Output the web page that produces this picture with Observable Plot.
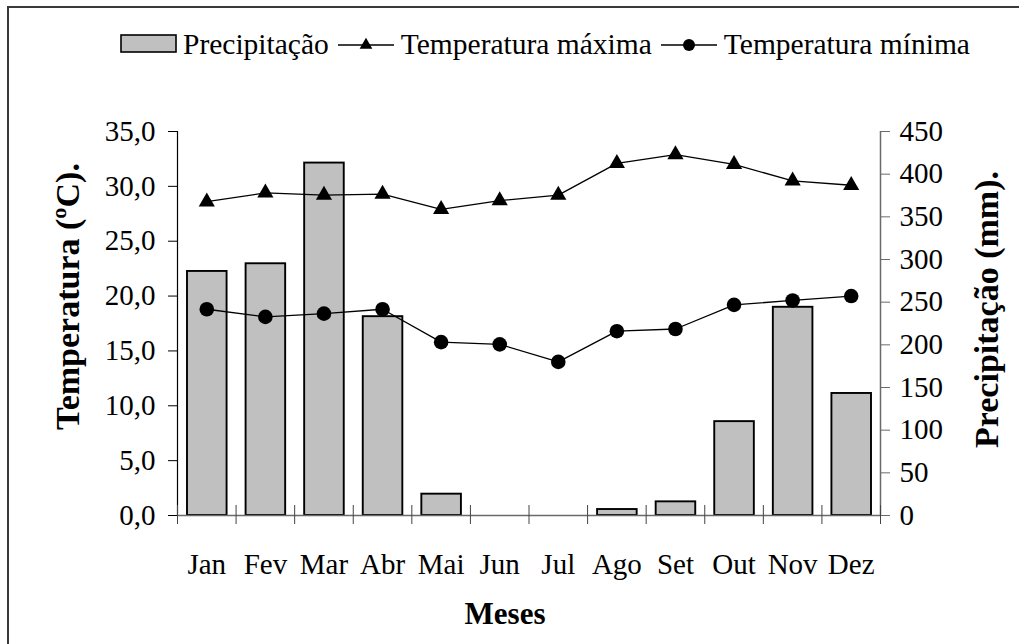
<!DOCTYPE html>
<html>
<head>
<meta charset="utf-8">
<script src="https://cdn.jsdelivr.net/npm/d3@7"></script>
<script src="https://cdn.jsdelivr.net/npm/@observablehq/plot@0.6"></script>
<style>
  html, body { margin: 0; padding: 0; background: #fff; overflow: hidden; width: 1019px; height: 644px; }
  #frame { position: absolute; left: 7px; top: 6px; width: 1100px; height: 700px; border: 2px solid #3a3a3a; box-sizing: border-box; }
  #legend { position: absolute; left: 120px; top: 26px; height: 36px; display: flex; align-items: center; font-family: "Liberation Serif", "Times New Roman", serif; font-size: 29.5px; color: #000; white-space: nowrap; }
  #legend .item { display: flex; align-items: center; margin-right: 7px; }
  #legend svg { margin-right: 5px; }
  #chart { position: absolute; left: 0; top: 80px; }
</style>
</head>
<body>
<div id="frame"></div>
<div id="legend"></div>
<div id="chart"></div>
<script>
const months = ["Jan", "Fev", "Mar", "Abr", "Mai", "Jun", "Jul", "Ago", "Set", "Out", "Nov", "Dez"];
const precipitacao = [286, 295, 413, 233, 25, 0, 0, 7, 16, 110, 244, 143];
const tempMax = [28.6, 29.4, 29.2, 29.3, 27.9, 28.7, 29.2, 32.1, 32.9, 32.0, 30.5, 30.1];
const tempMin = [18.8, 18.1, 18.4, 18.8, 15.8, 15.6, 14.0, 16.8, 17.0, 19.2, 19.6, 20.0];
const tempTicks = [0, 5, 10, 15, 20, 25, 30, 35];
const precipTicks = [0, 50, 100, 150, 200, 250, 300, 350, 400, 450];
const tempMaxDomain = 35;
const precipMaxDomain = 450;

const toTemp = p => p * tempMaxDomain / precipMaxDomain;
const fmt = v => v.toFixed(1).replace(".", ",");

const rows = months.map((m, i) => ({
  m, i, c: i + 0.5,
  p: precipitacao[i], pt: toTemp(precipitacao[i]),
  tmax: tempMax[i], tmin: tempMin[i]
}));
const boundaries = d3.range(months.length + 1);
const centers = months.map((m, i) => i + 0.5);

const W = 1019, H = 564;
const chart = Plot.plot({
  width: W,
  height: H,
  marginLeft: 177,
  marginRight: 139,
  marginTop: 51,
  marginBottom: 129,
  style: { fontFamily: "'Liberation Serif', 'Times New Roman', serif", fontSize: "29px", color: "#000", background: "transparent", overflow: "visible" },
  x: { type: "linear", domain: [0, months.length], axis: null },
  y: { domain: [0, tempMaxDomain], axis: null },
  marks: [
    Plot.rectY(rows.filter(d => d.p > 0), { x1: "i", x2: d => d.i + 1, y: "pt", insetLeft: 10, insetRight: 9, fill: "#c0c0c0", stroke: "#000", strokeWidth: 1.9 }),
    Plot.ruleY([0], { stroke: "#6a6a6a", strokeWidth: 1.5 }),
    Plot.ruleX([0], { stroke: "#000", strokeWidth: 1.2 }),
    Plot.ruleX([months.length], { stroke: "#6a6a6a", strokeWidth: 1.5 }),
    Plot.axisY({ anchor: "left", ticks: tempTicks, tickFormat: fmt, tickSize: 9, tickPadding: 13, stroke: "#000", label: null, fontSize: 29 }),
    Plot.axisY({ anchor: "right", ticks: precipTicks.map(toTemp), tickFormat: v => String(Math.round(v * precipMaxDomain / tempMaxDomain)), tickSize: 9, tickPadding: 10, stroke: "#6a6a6a", label: null, fontSize: 29 }),
    Plot.axisX({ ticks: boundaries, tickFormat: () => "", tickSize: 19, dy: -10, stroke: "#444", label: null }),
    Plot.axisX({ ticks: centers, tickFormat: v => months[Math.floor(v)], tickSize: 0, tickPadding: 38, label: null, fontSize: 29 }),
    Plot.line(rows, { x: "c", y: "tmax", stroke: "#000", strokeWidth: 1.3 }),
    Plot.line(rows, { x: "c", y: "tmin", stroke: "#000", strokeWidth: 1.3 }),
    Plot.dot(rows, { x: "c", y: "tmax", symbol: "triangle", r: 6, fill: "#000", stroke: "none" }),
    Plot.dot(rows, { x: "c", y: "tmin", symbol: "circle", r: 7.3, fill: "#000", stroke: "none" }),
    Plot.text(["Temperatura (ºC)."], { frameAnchor: "left", rotate: -90, textAnchor: "middle", lineAnchor: "middle", dx: -109, dy: -27, fontWeight: "bold", fontSize: 34, fill: "#000" }),
    Plot.text(["Precipitação (mm)."], { frameAnchor: "right", rotate: -90, textAnchor: "middle", lineAnchor: "middle", dx: 107, dy: -14, fontWeight: "bold", fontSize: 34, fill: "#000" }),
    Plot.text(["Meses"], { frameAnchor: "bottom", dx: -24, dy: 99, fontWeight: "bold", fontSize: 31, fill: "#000", lineAnchor: "middle" })
  ]
});
document.getElementById("chart").appendChild(chart);

// Legend
const legendItems = [
  { label: "Precipitação", kind: "bar" },
  { label: "Temperatura máxima", kind: "triangle" },
  { label: "Temperatura mínima", kind: "circle" }
];
const legend = d3.select("#legend");
for (const it of legendItems) {
  const item = legend.append("div").attr("class", "item");
  const s = item.append("svg").attr("width", it.kind === "bar" ? 58 : 60).attr("height", 24);
  if (it.kind === "bar") {
    s.append("rect").attr("x", 1).attr("y", 3).attr("width", 55).attr("height", 17).attr("fill", "#c0c0c0").attr("stroke", "#000").attr("stroke-width", 1.6);
  } else {
    s.append("line").attr("x1", 2).attr("x2", 58).attr("y1", 13).attr("y2", 13).attr("stroke", "#000").attr("stroke-width", 1.3);
    if (it.kind === "triangle") {
      s.append("path").attr("transform", "translate(30,13)").attr("d", d3.symbol(d3.symbolTriangle, 70)()).attr("fill", "#000");
    } else {
      s.append("circle").attr("cx", 30).attr("cy", 13).attr("r", 6).attr("fill", "#000");
    }
  }
  item.append("span").text(it.label);
}
</script>
</body>
</html>
